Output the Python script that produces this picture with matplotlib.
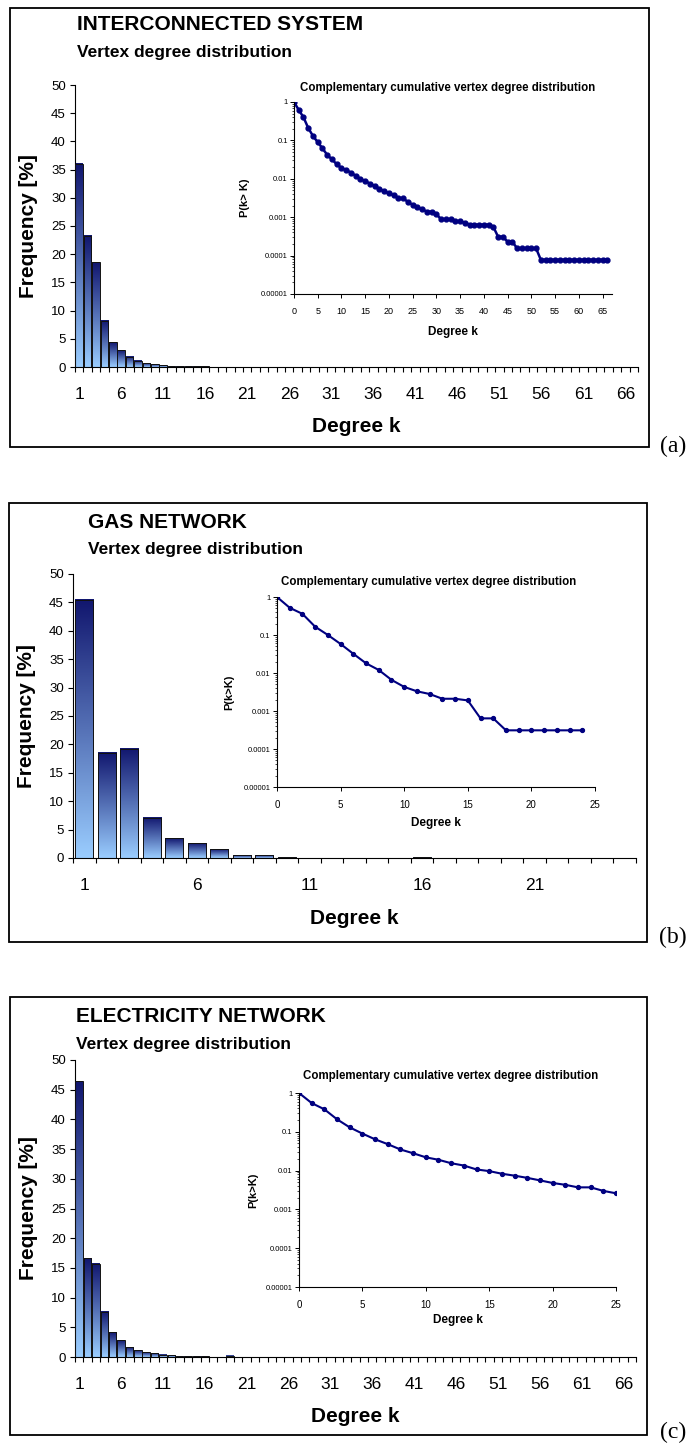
import numpy as np
import matplotlib
matplotlib.use('Agg')
import matplotlib.pyplot as plt
from matplotlib.colors import LinearSegmentedColormap
from matplotlib.patches import Rectangle
from matplotlib.ticker import LogLocator, NullFormatter

W, H = 692, 1450

# bar heights (frequency %) for degree 1, 2, 3, ...
freq_a = [36.0, 23.3, 18.6, 8.2, 4.4, 3.0, 1.8, 1.1, 0.7, 0.5, 0.3, 0.15, 0.12, 0.1, 0.1, 0.1]
freq_b = [45.5, 18.5, 19.2, 7.1, 3.5, 2.6, 1.5, 0.5, 0.5, 0.15, 0, 0, 0, 0, 0, 0.15]
freq_c = [46.4, 16.6, 15.7, 7.6, 4.2, 2.8, 1.6, 1.1, 0.8, 0.6, 0.35, 0.3, 0.15, 0.15, 0.15, 0.15, 0, 0, 0.2]
ncat_a, ncat_b, ncat_c = 67, 25, 67

# complementary cumulative distribution P(k>K), K = 0, 1, 2, ...
ccdf_a = [1.0, 0.62, 0.40, 0.21, 0.13, 0.09, 0.062, 0.042, 0.032, 0.024,
          0.019, 0.017, 0.0145, 0.012, 0.0098, 0.0088, 0.0075, 0.0065, 0.0055, 0.0047,
          0.0042, 0.0037, 0.0032, 0.0031, 0.0025, 0.0021, 0.0018, 0.0016, 0.0014, 0.0014,
          0.0012, 0.00088, 0.00088, 0.00088, 0.00078, 0.00078, 0.00072, 0.00064, 0.00064, 0.00064,
          0.00064, 0.00064, 0.00056, 0.00031, 0.00031, 0.00023, 0.00023, 0.000155, 0.000155, 0.000155,
          0.000155, 0.000155, 0.000078, 0.000078, 0.000078, 0.000078, 0.000078, 0.000078, 0.000078, 0.000078,
          0.000078, 0.000078, 0.000078, 0.000078, 0.000078, 0.000078, 0.000078]
ccdf_b = [1.0, 0.52, 0.36, 0.165, 0.10, 0.058, 0.032, 0.018, 0.012, 0.0066,
          0.0043, 0.0033, 0.0028, 0.0021, 0.0021, 0.0019, 0.00064, 0.00064, 0.00031, 0.00031,
          0.00031, 0.00031, 0.00031, 0.00031, 0.00031]
ccdf_c = [1.0, 0.55, 0.38, 0.21, 0.13, 0.09, 0.064, 0.048, 0.035, 0.028,
          0.022, 0.019, 0.0155, 0.0135, 0.0107, 0.0097, 0.0083, 0.0074, 0.0065, 0.0056,
          0.0048, 0.0043, 0.0037, 0.0037, 0.0030, 0.0026]

titles = ['INTERCONNECTED SYSTEM', 'GAS NETWORK', 'ELECTRICITY NETWORK']
subtitle = 'Vertex degree distribution'
inset_title = 'Complementary cumulative vertex degree distribution'
log_labels = ['0.00001', '0.0001', '0.001', '0.01', '0.1', '1']

plt.rcParams['font.family'] = ['Liberation Sans', 'DejaVu Sans']
bar_cmap = LinearSegmentedColormap.from_list('bars', ['#9ACDFF', '#5571B6', '#11166E'])
grad = np.linspace(0, 1, 256).reshape(-1, 1)
NAVY = '#000080'


def px_rect(l, t, r, b):
    return [l / W, 1 - b / H, (r - l) / W, (b - t) / H]


def draw_main(ax, freq, ncat, width):
    pos = np.arange(1, len(freq) + 1)
    for x, h in zip(pos, freq):
        if h <= 0:
            continue
        ax.imshow(grad, extent=[x - width / 2, x + width / 2, 0, h], origin='lower',
                  aspect='auto', cmap=bar_cmap, zorder=2, interpolation='bilinear')
        ax.bar(x, h, width=width, fill=False, edgecolor='#111111', linewidth=0.7, zorder=3)
    ax.set_xlim(0.5, ncat + 0.5)
    ax.set_ylim(0, 50)
    ax.set_yticks(range(0, 51, 5))
    ax.tick_params(axis='y', length=3.6, width=0.8, pad=3, labelsize=9.5)
    ticks = list(range(1, ncat + 1, 5))
    ax.set_xticks(ticks)
    ax.set_xticklabels([str(t) for t in ticks], fontsize=12.5)
    ax.set_xticks(np.arange(0.5, ncat + 1), minor=True)
    ax.tick_params(axis='x', which='major', length=0, pad=14.5)
    ax.tick_params(axis='x', which='minor', length=3.6, width=0.8)
    for s in ['top', 'right']:
        ax.spines[s].set_visible(False)
    for s in ['left', 'bottom']:
        ax.spines[s].set_linewidth(0.8)
    ax.set_xlabel('Degree k', fontsize=15, fontweight='bold')
    ax.xaxis.set_label_coords(0.5, -60 / (ax.get_position().height * H))
    ax.xaxis.label.set_va('center')
    ax.set_ylabel('Frequency [%]', fontsize=15, fontweight='bold')
    ax.yaxis.set_label_coords(-46 / (ax.get_position().width * W), 0.5)
    ax.yaxis.label.set_va('center')


def draw_inset(ax, ccdf, xmax, ms, lw, xlab_y, ylab_x, title_xy, xtick_size, ylab):
    k = np.arange(len(ccdf))
    ax.plot(k, ccdf, color=NAVY, lw=lw, marker='o', ms=ms, mfc=NAVY, mec=NAVY)
    ax.set_yscale('log')
    ax.set_ylim(1e-5, 1)
    ax.set_xlim(0, xmax)
    ax.set_yticks([1e-5, 1e-4, 1e-3, 1e-2, 1e-1, 1])
    ax.set_yticklabels(log_labels)
    ax.yaxis.set_minor_locator(LogLocator(base=10, subs=np.arange(2, 10)))
    ax.yaxis.set_minor_formatter(NullFormatter())
    ax.set_xticks(range(0, int(xmax) + 1, 5))
    ax.tick_params(axis='y', which='major', length=3, width=0.7, pad=1.5, labelsize=5.5)
    ax.tick_params(axis='y', which='minor', length=1.5, width=0.5)
    ax.tick_params(axis='x', length=3, width=0.7, pad=6, labelsize=xtick_size)
    for s in ['top', 'right']:
        ax.spines[s].set_visible(False)
    for s in ['left', 'bottom']:
        ax.spines[s].set_linewidth(0.8)
    ax.patch.set_alpha(0)
    ax.set_xlabel('Degree k', fontsize=8.5, fontweight='bold')
    ax.xaxis.set_label_coords(0.5, xlab_y)
    ax.xaxis.label.set_va('center')
    ax.set_ylabel(ylab, fontsize=8, fontweight='bold')
    ax.yaxis.set_label_coords(ylab_x, 0.5)
    ax.yaxis.label.set_va('center')
    ax.text(title_xy[0], title_xy[1], inset_title, transform=ax.transAxes, ha='center',
            va='center', fontsize=8.3, fontweight='bold')


fig = plt.figure(figsize=(W / 100, H / 100), dpi=100)

# panel frames, titles and labels
frames = [(10, 8, 649, 447), (9, 503, 647, 942), (10, 997, 647, 1435)]
title_pos = [(77, 25, 53), (88, 522, 549), (76, 1017, 1044)]
tag_y = [446, 937, 1432]
for (l, t, r, b), (tx, ty, sy), name, tag, ty2 in zip(frames, title_pos, titles, ['(a)', '(b)', '(c)'], tag_y):
    fig.add_artist(Rectangle((l / W, 1 - b / H), (r - l) / W, (b - t) / H, transform=fig.transFigure,
                             fill=False, ec='black', lw=1.3))
    fig.text(tx / W, 1 - ty / H, name, fontsize=15, fontweight='bold', ha='left', va='center')
    fig.text(tx / W, 1 - sy / H, subtitle, fontsize=12.5, fontweight='bold', ha='left', va='center')
    fig.text(673 / W, 1 - ty2 / H, tag, fontfamily='Liberation Serif', fontsize=17, ha='center', va='center')

ax_a = fig.add_axes(px_rect(75, 85, 638, 367))
draw_main(ax_a, freq_a, ncat_a, 0.9)
ax_b = fig.add_axes(px_rect(73, 574, 636, 858))
draw_main(ax_b, freq_b, ncat_b, 0.8)
ax_c = fig.add_axes(px_rect(75, 1060, 636, 1357))
draw_main(ax_c, freq_c, ncat_c, 0.9)

in_a = fig.add_axes(px_rect(294, 102, 612, 294))
draw_inset(in_a, ccdf_a, 67, 3.5, 1.8, -0.198, -0.154, (0.484, 1.073), 6.5, 'P(k> K)')
in_b = fig.add_axes(px_rect(277, 597, 595, 787))
draw_inset(in_b, ccdf_b, 25, 2.8, 1.5, -0.189, -0.151, (0.476, 1.079), 7, 'P(k>K)')
in_c = fig.add_axes(px_rect(299, 1093, 616, 1287))
draw_inset(in_c, ccdf_c, 25, 2.8, 1.5, -0.170, -0.145, (0.479, 1.088), 7, 'P(k>K)')

fig.savefig('out.png', dpi=100, facecolor='white')
